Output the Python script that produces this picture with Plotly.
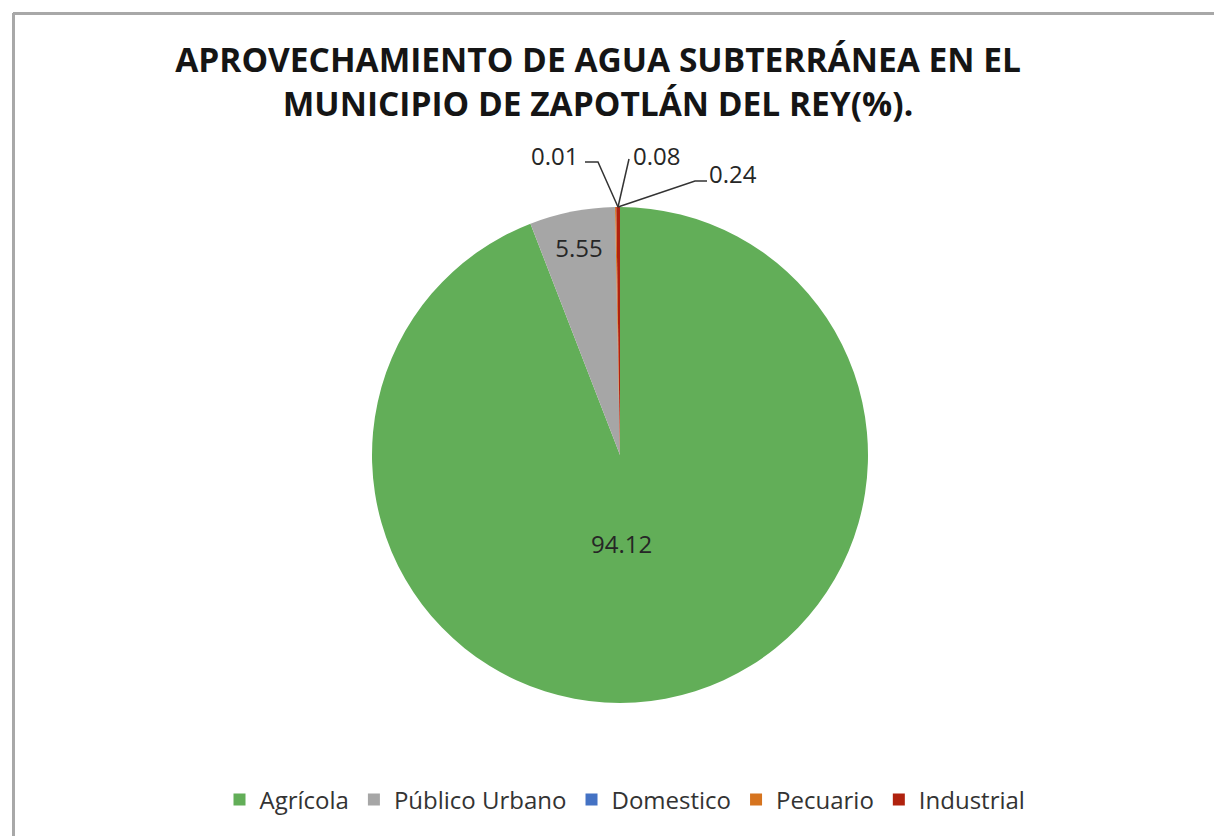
import plotly.graph_objects as go

categories = ["Agrícola", "Público Urbano", "Domestico", "Pecuario", "Industrial"]
values = [94.12, 5.55, 0.01, 0.08, 0.24]
colors = ["#62AE58", "#A6A6A6", "#4472C4", "#D6741F", "#B0220E"]
# which slices get plotly's own inside label; the rest are labelled by callouts
native_label = ["none", "inside", "none", "none", "none"]
title_lines = ["APROVECHAMIENTO DE AGUA SUBTERRÁNEA EN EL", "MUNICIPIO DE ZAPOTLÁN DEL REY(%)."]

W, H = 1222, 836


def px(x):
    return x / W


def py(y):
    return 1 - y / H


LABEL_FONT = dict(family="Open Sans", size=24, color="#262626")

fig = go.Figure(go.Pie(
    labels=categories,
    values=values,
    sort=False,
    direction="clockwise",
    rotation=0,
    marker=dict(colors=colors, line=dict(width=0)),
    texttemplate="%{value}",
    textposition=native_label,
    insidetextorientation="horizontal",
    textfont=LABEL_FONT,
    domain=dict(x=[px(364), px(860)], y=[py(695), py(199)]),
    hoverinfo="label+value",
))

# callout label positions (layout only) for slices labelled by annotation
callout_pos = {0: (613, 535), 2: (546, 147), 3: (648, 147), 4: (725, 165)}
annotations = []
for i, (cx, cy) in callout_pos.items():
    annotations.append(dict(
        x=px(cx), y=py(cy), xref="paper", yref="paper",
        text=str(values[i]), showarrow=False,
        xanchor="center", yanchor="middle", font=LABEL_FONT,
    ))

# leader lines for the three tiny slices
leader_paths = [
    [(577, 154), (590, 154), (610, 199)],
    [(621, 151), (610, 199)],
    [(699, 173), (687, 173), (610, 199)],
]
shapes = []
for pts in leader_paths:
    d = "M " + " L ".join(f"{px(x)},{py(y)}" for x, y in pts)
    shapes.append(dict(type="path", xref="paper", yref="paper", path=d,
                       line=dict(color="#333333", width=1.5)))

# chart-area border (top and left edges visible)
shapes += [
    dict(type="line", xref="paper", yref="paper", x0=px(5), x1=1.0, y0=py(5.5), y1=py(5.5),
         line=dict(color="#A8A8A8", width=3)),
    dict(type="line", xref="paper", yref="paper", x0=px(5.5), x1=px(5.5), y0=0, y1=py(5),
         line=dict(color="#A8A8A8", width=3)),
]

fig.update_layout(
    width=W, height=H,
    margin=dict(l=0, r=0, t=0, b=0),
    paper_bgcolor="white",
    plot_bgcolor="white",
    title=dict(
        text="<br>".join(title_lines),
        x=px(590), xanchor="center",
        y=py(64), yanchor="middle", yref="container",
        font=dict(family="Open Sans", size=33.5, color="#151515", weight="bold"),
    ),
    legend=dict(
        orientation="h",
        x=px(617), xanchor="center",
        y=py(792), yanchor="middle",
        font=dict(family="Open Sans", size=24, color="#333333"),
        itemwidth=30,
        traceorder="normal",
    ),
    annotations=annotations,
    shapes=shapes,
)

fig.write_html("out.html")
